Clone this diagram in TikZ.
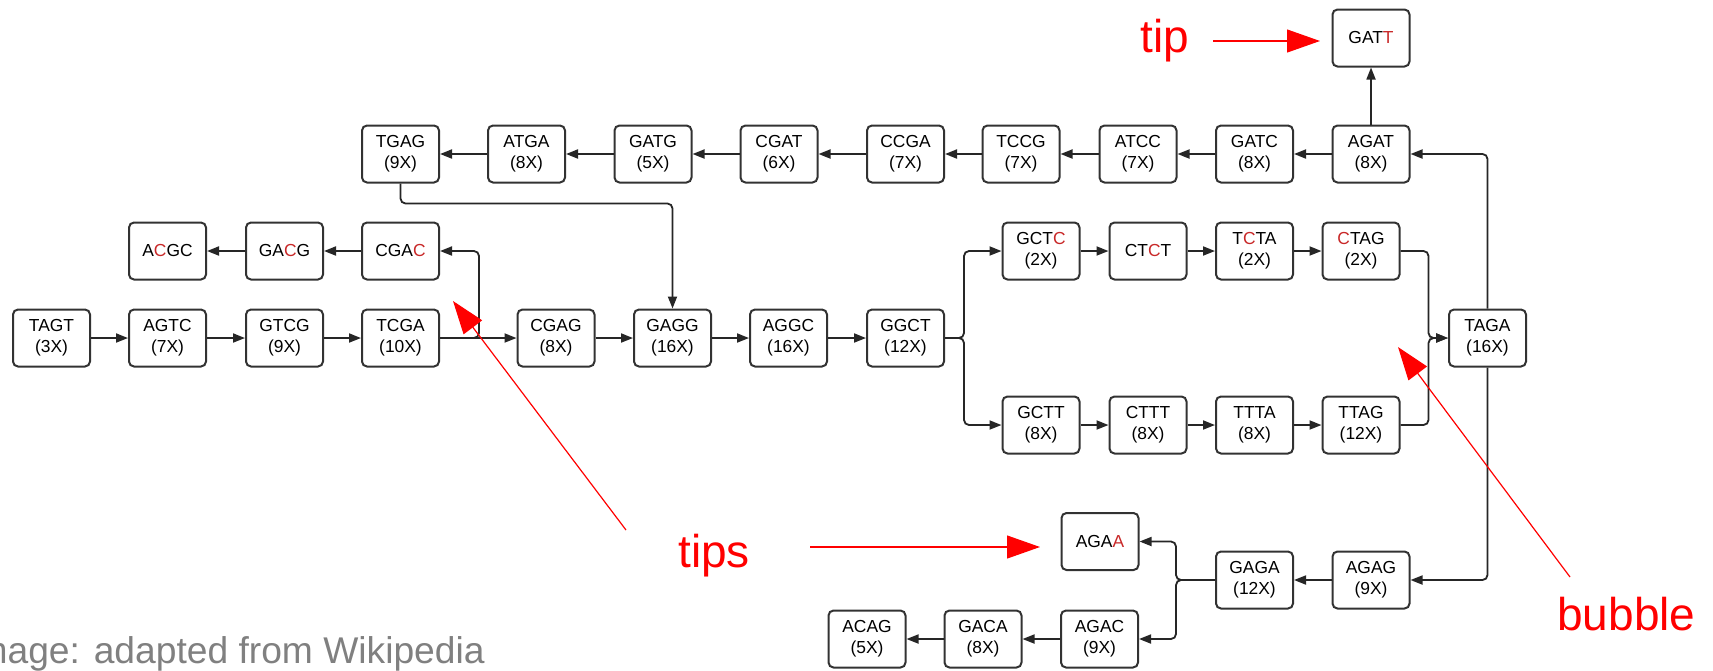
\documentclass[tikz,border=0pt]{standalone}
\usepackage{fontspec}
\setmainfont{Liberation Sans}
\usetikzlibrary{arrows.meta}
\definecolor{dred}{RGB}{200,40,40}
\definecolor{lred}{RGB}{255,0,0}
\definecolor{capgray}{RGB}{128,128,128}
\definecolor{boxline}{RGB}{50,50,50}
\newcommand{\mred}[1]{\textcolor{dred}{#1}}
\begin{document}
\begin{tikzpicture}[x=0.5pt,y=-0.5pt,
  kbox/.style={draw=boxline, line width=1pt, rounded corners=2.5pt, minimum width=38.5pt, minimum height=28.5pt, inner sep=0pt, align=center, font=\fontsize{8.7}{10.7}\selectfont},
  conn/.style={draw=black!85, line width=0.9pt, rounded corners=2.5pt, -{Triangle[length=6pt,width=4.5pt]}},
  note/.style={text=lred, font=\fontsize{23}{27}\selectfont, inner sep=0pt},
  redarrow/.style={draw=lred, line width=0.6pt, -{Triangle[length=16.5pt,width=11.5pt]}}
]
\useasboundingbox (0,0) rectangle (1713,670);

% bottom main row
\node[kbox] (TAGT) at (51.5,338) {TAGT\\(3X)};
\node[kbox] (AGTC) at (167.5,338) {AGTC\\(7X)};
\node[kbox] (GTCG) at (284.5,338) {GTCG\\(9X)};
\node[kbox] (TCGA) at (400.5,338) {TCGA\\(10X)};
\node[kbox] (CGAG) at (556,338) {CGAG\\(8X)};
\node[kbox] (GAGG) at (672.5,338) {GAGG\\(16X)};
\node[kbox] (AGGC) at (788.5,338) {AGGC\\(16X)};
\node[kbox] (GGCT) at (905.5,338) {GGCT\\(12X)};
\node[kbox] (TAGA) at (1487.5,338) {TAGA\\(16X)};

% top row
\node[kbox] (TGAG) at (400.5,154) {TGAG\\(9X)};
\node[kbox] (ATGA) at (526.5,154) {ATGA\\(8X)};
\node[kbox] (GATG) at (653,154) {GATG\\(5X)};
\node[kbox] (CGAT) at (779,154) {CGAT\\(6X)};
\node[kbox] (CCGA) at (905.5,154) {CCGA\\(7X)};
\node[kbox] (TCCG) at (1021,154) {TCCG\\(7X)};
\node[kbox] (ATCC) at (1138,154) {ATCC\\(7X)};
\node[kbox] (GATC) at (1254.5,154) {GATC\\(8X)};
\node[kbox] (AGAT) at (1371,154) {AGAT\\(8X)};
\node[kbox] (GATT) at (1371,38) {GAT\mred{T}};

% tip row left
\node[kbox] (ACGC) at (167.5,251) {A\mred{C}GC};
\node[kbox] (GACG) at (284.5,251) {GA\mred{C}G};
\node[kbox] (CGAC) at (400.5,251) {CGA\mred{C}};

% bubble
\node[kbox] (GCTC) at (1041,251) {GCT\mred{C}\\(2X)};
\node[kbox] (CTCT) at (1148,251) {CT\mred{C}T};
\node[kbox] (TCTA) at (1254.5,251) {T\mred{C}TA\\(2X)};
\node[kbox] (CTAG) at (1361,251) {\mred{C}TAG\\(2X)};
\node[kbox] (GCTT) at (1041,425) {GCTT\\(8X)};
\node[kbox] (CTTT) at (1148,425) {CTTT\\(8X)};
\node[kbox] (TTTA) at (1254.5,425) {TTTA\\(8X)};
\node[kbox] (TTAG) at (1361,425) {TTAG\\(12X)};

% lower right
\node[kbox] (AGAA) at (1100,541.5) {AGA\mred{A}};
\node[kbox] (GAGA) at (1254.5,580) {GAGA\\(12X)};
\node[kbox] (AGAG) at (1371,580) {AGAG\\(9X)};
\node[kbox] (ACAG) at (867,639) {ACAG\\(5X)};
\node[kbox] (GACA) at (983,639) {GACA\\(8X)};
\node[kbox] (AGAC) at (1099.5,639) {AGAC\\(9X)};

% connectors
\foreach \a/\b in {TAGT/AGTC,AGTC/GTCG,GTCG/TCGA,TCGA/CGAG,CGAG/GAGG,GAGG/AGGC,AGGC/GGCT,
  CGAC/GACG,GACG/ACGC,
  AGAT/GATC,GATC/ATCC,ATCC/TCCG,TCCG/CCGA,CCGA/CGAT,CGAT/GATG,GATG/ATGA,ATGA/TGAG,
  GCTC/CTCT,CTCT/TCTA,TCTA/CTAG,GCTT/CTTT,CTTT/TTTA,TTTA/TTAG,
  AGAG/GAGA,AGAC/GACA,GACA/ACAG}
  \draw[conn] (\a) -- (\b);
\draw[conn] (TCGA.east) -- ++(39,0) |- (CGAC.east);
\draw[conn] (TGAG.south) -- ++(0,20) -| (GAGG.north);
\draw[conn] (GGCT.east) -- ++(19,0) |- (GCTC.west);
\draw[conn] (GGCT.east) -- ++(19,0) |- (GCTT.west);
\draw[conn] (CTAG.east) -- ++(28,0) |- (TAGA.west);
\draw[conn] (TTAG.east) -- ++(28,0) |- (TAGA.west);
\draw[conn] (TAGA.north) |- (AGAT.east);
\draw[conn] (AGAT.north) -- (GATT.south);
\draw[conn] (TAGA.south) |- (AGAG.east);
\draw[conn] (GAGA.west) -- ++(-39,0) |- (AGAA.east);
\draw[conn] (GAGA.west) -- ++(-39,0) |- (AGAC.east);

% annotations
\node[note, anchor=base west] (tipl) at (1140,52) {tip};
\node[note, anchor=base west] (tipsl) at (678,567) {tips};
\node[note, anchor=base west] (bubl) at (1557,630) {bubble};
\node[anchor=base east, text=capgray, font=\fontsize{18.6}{20}\selectfont, inner sep=0pt] (cap) at (485,663) {Image: adapted from Wikipedia};

\coordinate (tipA) at (1213,41); \coordinate (tipB) at (1320,41);
\coordinate (tipsA) at (810,547); \coordinate (tipsB) at (1040,547);
\coordinate (tipsC) at (626,530); \coordinate (tipsD) at (453,301);
\coordinate (bubA) at (1570,577); \coordinate (bubB) at (1398,347);
\draw[redarrow] (tipA) -- (tipB);
\draw[redarrow] (tipsA) -- (tipsB);
\draw[redarrow] (tipsC) -- (tipsD);
\draw[redarrow] (bubA) -- (bubB);
\end{tikzpicture}
\end{document}
